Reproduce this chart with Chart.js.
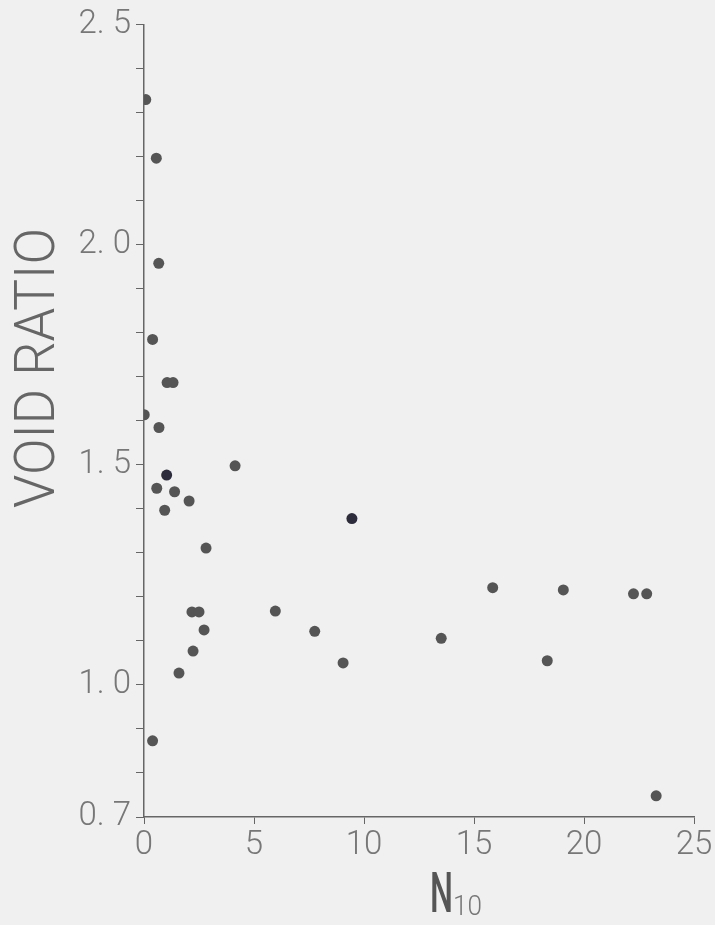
<!DOCTYPE html>
<html>
<head>
<meta charset="utf-8">
<script src="https://cdn.jsdelivr.net/npm/chart.js@4"></script>
<style>
  body { margin: 0; background: #f0f0f0; }
  #wrap { width: 715px; height: 925px; position: relative; }
</style>
</head>
<body>
<div id="wrap"><canvas id="grafico"></canvas></div>
<script>
// dados
const n10 = [0.08, 0.56, 0.67, 0.39, 1.05, 1.32, 0.01, 0.68, 4.14, 1.03, 0.58, 1.39, 2.05, 0.94, 2.82, 9.45,
             2.18, 2.5, 2.73, 2.23, 1.59, 0.39, 5.97, 7.76, 9.05, 13.51, 15.85, 19.06, 18.33, 22.25, 22.85, 23.28];
const voidRatio = [2.33, 2.197, 1.958, 1.785, 1.687, 1.687, 1.614, 1.585, 1.498, 1.477, 1.447, 1.439, 1.418, 1.397, 1.311, 1.378,
                   1.166, 1.166, 1.125, 1.077, 1.027, 0.873, 1.168, 1.122, 1.05, 1.106, 1.221, 1.216, 1.055, 1.207, 1.207, 0.748];
const darkPoints = [9, 15];

const yTicks = [0.7, 0.8, 0.9, 1.0, 1.1, 1.2, 1.3, 1.4, 1.5, 1.6, 1.7, 1.8, 1.9, 2.0, 2.1, 2.2, 2.3, 2.4, 2.5];
const yLabels = { '0.7': '0. 7', '1.0': '1. 0', '1.5': '1. 5', '2.0': '2. 0', '2.5': '2. 5' };
const xTicks = [0, 5, 10, 15, 20, 25];

const pontos = n10.map((x, i) => ({ x: x, y: voidRatio[i] }));
const cores = n10.map((x, i) => darkPoints.includes(i) ? '#2c2c3c' : '#555555');

// titulos dos eixos
const titulos = {
    id: 'titulos',
    afterDraw(chart) {
        const ctx = chart.ctx;
        ctx.save();
        ctx.fillStyle = '#666';
        ctx.font = '300 56px Roboto';
        ctx.textAlign = 'center';
        ctx.textBaseline = 'middle';
        ctx.translate(38, 368);
        ctx.rotate(-Math.PI / 2);
        const w = ctx.measureText('VOID RATIO').width;
        ctx.scale(280 / w, 1);
        ctx.fillText('VOID RATIO', 0, 2);
        ctx.restore();

        ctx.save();
        ctx.fillStyle = '#555';
        ctx.textBaseline = 'alphabetic';
        ctx.textAlign = 'left';
        ctx.translate(430, 912);
        ctx.font = '500 56px Roboto';
        const wn = ctx.measureText('N').width;
        ctx.save();
        ctx.scale(23 / wn, 1);
        ctx.fillText('N', 0, 0);
        ctx.restore();
        ctx.fillStyle = '#777';
        ctx.font = '300 27px Roboto';
        const w10 = ctx.measureText('10').width;
        ctx.scale(29 / w10, 1);
        ctx.fillText('10', 23 * w10 / 29, 3);
        ctx.restore();
    }
};

const ctx = document.getElementById('grafico');

const grafico = new Chart(ctx, {
    type: 'scatter',
    data: {
        datasets: [{
            data: pontos,
            backgroundColor: cores,
            borderWidth: 0,
            pointRadius: 5.5,
            pointHoverRadius: 5.5
        }]
    },
    options: {
        responsive: true,
        maintainAspectRatio: false,
        animation: false,
        layout: {
            padding: { top: 24, right: 21, bottom: 0, left: 0 }
        },
        scales: {
            x: {
                type: 'linear',
                min: 0,
                max: 25,
                afterBuildTicks: scale => { scale.ticks = xTicks.map(v => ({ value: v })); },
                afterFit: scale => { scale.height = 108; },
                grid: { drawOnChartArea: false, tickLength: 7, color: '#666', tickWidth: 1 },
                border: { color: '#666', width: 1.5 },
                ticks: {
                    color: '#777',
                    padding: 2,
                    maxRotation: 0,
                    font: { family: 'Roboto', weight: '300', size: 33 }
                }
            },
            y: {
                type: 'linear',
                min: 0.7,
                max: 2.5,
                afterBuildTicks: scale => { scale.ticks = yTicks.map(v => ({ value: v })); },
                afterFit: scale => { scale.width = 144; },
                grid: { drawOnChartArea: false, tickLength: 8, color: '#666', tickWidth: 1 },
                border: { color: '#666', width: 1.5 },
                ticks: {
                    color: '#777',
                    padding: 5,
                    autoSkip: false,
                    font: { family: 'Roboto', weight: '300', size: 33 },
                    callback: function(value) {
                        return yLabels[value.toFixed(1)] || '';
                    }
                }
            }
        },
        plugins: {
            legend: { display: false },
            tooltip: { enabled: false }
        }
    },
    plugins: [titulos]
});
</script>
</body>
</html>
